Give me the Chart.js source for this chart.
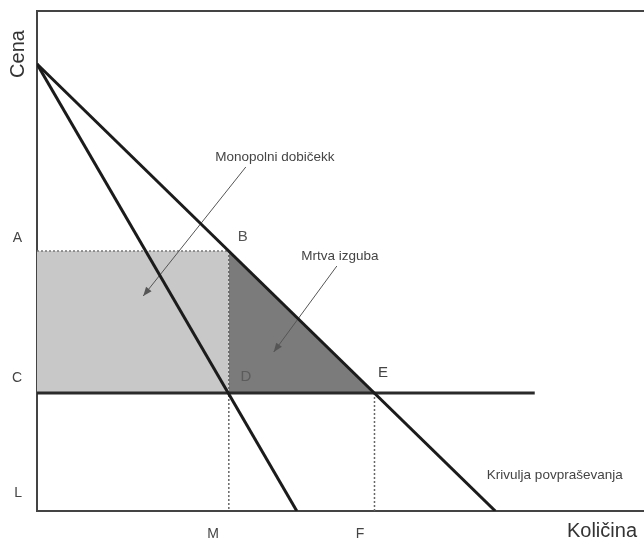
<!DOCTYPE html>
<html>
<head>
<meta charset="utf-8">
<script src="https://cdn.jsdelivr.net/npm/chart.js@4.4.1/dist/chart.umd.min.js"></script>
<style>
  html, body { margin: 0; padding: 0; background: #fff; }
  canvas { display: block; }
</style>
</head>
<body>
<canvas id="monopolyChart" width="644" height="544"></canvas>
<script>
// curves (quantity, price)
const demandCurve = [[0, 89.4], [75.5, 0]];
const marginalRevenue = [[0, 89.4], [42.8, 0]];
const costLine = [[0, 23.6], [82, 23.6]];

// key levels
const priceA = 52;
const priceC = 23.6;
const qtyM = 31.6;
const qtyF = 55.6;

// tick labels
const yTickValues = [54.6, 26.6, 3.6];
const yTickLabels = ['A', 'C', 'L'];
const xTickValues = [29, 53.2];
const xTickLabels = ['M', 'F'];

// annotation arrows (from text to area)
const profitArrow = [[34.4, 68.8], [17.5, 43]];
const lossArrow = [[49.4, 49], [39.0, 31.8]];

const notes = [
    { text: 'Monopolni dobičekk', x: 39.2, y: 70.8, size: 13.5, color: '#444' },
    { text: 'Mrtva izguba', x: 49.9, y: 51, size: 13.5, color: '#444' },
    { text: 'B', x: 33.9, y: 54.8, size: 15, color: '#555' },
    { text: 'D', x: 34.4, y: 26.8, size: 15, color: '#5c5c5c' },
    { text: 'E', x: 57, y: 27.6, size: 15, color: '#444' },
    { text: 'Krivulja povpraševanja', x: 85.3, y: 7.2, size: 13.5, color: '#444' }
];

const FONT = '"Liberation Sans", Arial, sans-serif';
const pts = arr => arr.map(p => ({ x: p[0], y: p[1] }));

const arrowHeads = {
    id: 'arrowHeads',
    afterDatasetsDraw(chart) {
        const ctx = chart.ctx;
        chart.data.datasets.forEach((ds, i) => {
            if (!ds.arrow) return;
            const meta = chart.getDatasetMeta(i);
            const a = meta.data[meta.data.length - 2];
            const b = meta.data[meta.data.length - 1];
            const ang = Math.atan2(b.y - a.y, b.x - a.x);
            const len = 9, half = 3.5;
            ctx.save();
            ctx.translate(b.x, b.y);
            ctx.rotate(ang);
            ctx.fillStyle = ds.borderColor;
            ctx.beginPath();
            ctx.moveTo(0, 0);
            ctx.lineTo(-len, -half);
            ctx.lineTo(-len, half);
            ctx.closePath();
            ctx.fill();
            ctx.restore();
        });
    }
};

const textNotes = {
    id: 'textNotes',
    afterDraw(chart) {
        const ctx = chart.ctx;
        const xs = chart.scales.x, ys = chart.scales.y;
        ctx.save();
        ctx.textAlign = 'center';
        ctx.textBaseline = 'middle';
        notes.forEach(n => {
            ctx.font = n.size + 'px ' + FONT;
            ctx.fillStyle = n.color;
            ctx.fillText(n.text, xs.getPixelForValue(n.x), ys.getPixelForValue(n.y));
        });
        // axis titles
        ctx.fillStyle = '#333';
        ctx.font = '20px ' + FONT;
        ctx.textAlign = 'right';
        ctx.fillText('Količina', 637, 531);
        ctx.translate(18, 54);
        ctx.rotate(-Math.PI / 2);
        ctx.textAlign = 'center';
        ctx.fillText('Cena', 0, 0);
        ctx.restore();
    }
};

const ctx = document.getElementById('monopolyChart').getContext('2d');
new Chart(ctx, {
    type: 'scatter',
    data: {
        datasets: [
            {
                // demand curve
                data: pts(demandCurve),
                borderColor: '#1b1b1b', borderWidth: 3, order: 1
            },
            {
                // marginal revenue
                data: pts(marginalRevenue),
                borderColor: '#1b1b1b', borderWidth: 3, order: 1
            },
            {
                // cost line
                data: pts(costLine),
                borderColor: '#2a2a2a', borderWidth: 3, order: 1
            },
            {
                // monopoly profit rectangle (A to C, 0 to M)
                data: pts([[0, priceA], [qtyM, priceA]]),
                borderColor: '#777', borderWidth: 1.5, borderDash: [2, 2],
                fill: { value: priceC }, backgroundColor: '#c8c8c8', order: 6
            },
            {
                // deadweight loss triangle B-D-E
                data: pts([[qtyM, priceA], [qtyF, priceC]]),
                borderWidth: 0, borderColor: 'rgba(0,0,0,0)',
                fill: { value: priceC }, backgroundColor: '#7b7b7b', order: 5
            },
            {
                data: pts([[qtyM, priceA], [qtyM, 0]]),
                borderColor: '#666', borderWidth: 1.5, borderDash: [2, 2], order: 4
            },
            {
                data: pts([[qtyF, priceC], [qtyF, 0]]),
                borderColor: '#666', borderWidth: 1.5, borderDash: [2, 2], order: 4
            },
            {
                data: pts(profitArrow), arrow: true,
                borderColor: '#555', borderWidth: 1, order: 3
            },
            {
                data: pts(lossArrow), arrow: true,
                borderColor: '#555', borderWidth: 1, order: 3
            }
        ]
    },
    options: {
        responsive: false,
        animation: false,
        showLine: true,
        elements: { point: { radius: 0, hoverRadius: 0 }, line: { tension: 0 } },
        layout: { padding: { top: 11, left: 0, right: 0, bottom: 0 } },
        plugins: { legend: { display: false }, tooltip: { enabled: false } },
        scales: {
            x: {
                type: 'linear', min: 0, max: 100,
                grid: { display: false, drawTicks: false },
                border: { display: true, color: '#444', width: 2 },
                afterBuildTicks: s => { s.ticks = xTickValues.map(v => ({ value: v })); },
                afterFit: s => { s.height = 33; s.paddingLeft = 0; s.paddingRight = 0; },
                ticks: {
                    padding: 15, color: '#444',
                    font: { family: FONT, size: 14 },
                    callback: (v, i) => xTickLabels[i]
                }
            },
            x2: {
                type: 'linear', position: 'top', min: 0, max: 100,
                grid: { display: false, drawTicks: false },
                border: { display: true, color: '#444', width: 2 },
                ticks: { display: false, padding: 0 },
                afterFit: s => { s.height = 0; s.paddingLeft = 0; s.paddingRight = 0; }
            },
            y: {
                type: 'linear', min: 0, max: 100,
                grid: { display: false, drawTicks: false },
                border: { display: true, color: '#444', width: 2 },
                afterBuildTicks: s => { s.ticks = yTickValues.map(v => ({ value: v })); },
                afterFit: s => { s.width = 37; s.paddingTop = 0; s.paddingBottom = 0; },
                ticks: {
                    padding: 15, color: '#444',
                    font: { family: FONT, size: 14 },
                    callback: (v, i) => yTickLabels[i]
                }
            }
        }
    },
    plugins: [arrowHeads, textNotes]
});
</script>
</body>
</html>
